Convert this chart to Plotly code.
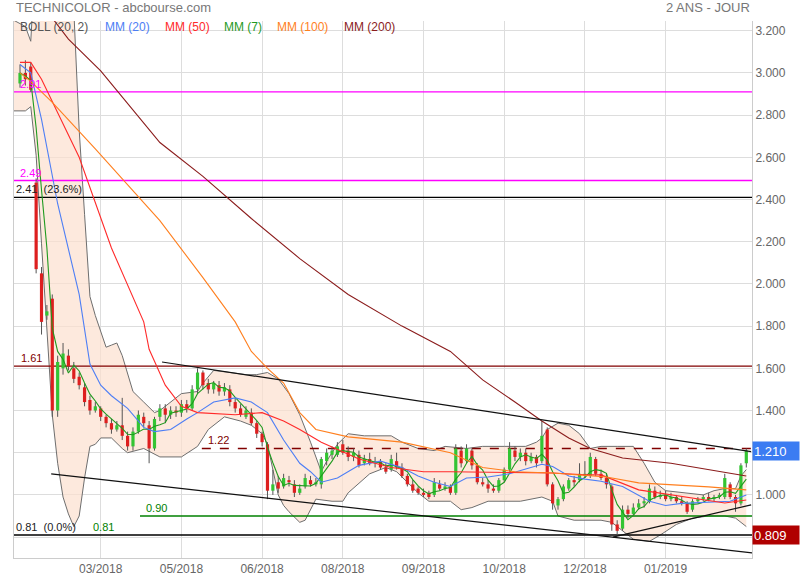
import plotly.graph_objects as go
import pandas as pd

# ---------------- data (candle index = 2 trading days) ----------------
opens = [2.95, 3.00, 3.03, 2.48, 2.05, 1.85, 1.93, 1.40, 1.60, 1.66,
         1.60, 1.56, 1.51, 1.45, 1.40, 1.41, 1.37, 1.34, 1.31, 1.33,
         1.28, 1.23, 1.30, 1.37, 1.33, 1.22, 1.37, 1.41, 1.38, 1.40,
         1.39, 1.43, 1.41, 1.50, 1.58, 1.53, 1.50, 1.52, 1.49, 1.50,
         1.44, 1.41, 1.37, 1.39, 1.34, 1.29, 1.24, 1.02, 1.06, 1.04,
         1.07, 1.05, 1.01, 1.04, 1.07, 1.05, 1.05, 1.16, 1.19, 1.19,
         1.24, 1.21, 1.18, 1.19, 1.15, 1.17, 1.15, 1.16, 1.13, 1.12,
         1.16, 1.13, 1.09, 1.05, 1.03, 1.01, 1.01, 1.00, 1.05, 1.03,
         1.04, 1.01, 1.21, 1.16, 1.21, 1.14, 1.06, 1.05, 1.03, 1.02,
         1.07, 1.12, 1.21, 1.18, 1.20, 1.16, 1.18, 1.16, 1.31, 1.05,
         0.95, 0.98, 1.03, 1.07, 1.07, 1.09, 1.09, 1.17, 1.10, 1.08,
         1.04, 0.86, 0.84, 0.93, 0.91, 0.94, 0.96, 0.97, 1.02, 0.99,
         1.00, 0.98, 0.99, 0.97, 0.96, 0.93, 0.97, 0.98, 0.99, 0.98,
         0.99, 0.99, 1.05, 0.99, 0.96, 1.15]
highs = [3.04, 3.06, 3.05, 2.50, 2.08, 1.90, 1.95, 1.66, 1.72, 1.69,
         1.63, 1.58, 1.53, 1.47, 1.44, 1.42, 1.38, 1.36, 1.35, 1.46,
         1.30, 1.32, 1.40, 1.39, 1.35, 1.37, 1.43, 1.43, 1.42, 1.42,
         1.45, 1.45, 1.52, 1.60, 1.59, 1.55, 1.54, 1.54, 1.53, 1.52,
         1.46, 1.43, 1.42, 1.41, 1.35, 1.30, 1.25, 1.12, 1.09, 1.10,
         1.09, 1.07, 1.05, 1.10, 1.09, 1.08, 1.18, 1.22, 1.23, 1.25,
         1.26, 1.23, 1.22, 1.21, 1.19, 1.20, 1.18, 1.17, 1.15, 1.19,
         1.20, 1.15, 1.10, 1.07, 1.04, 1.03, 1.02, 1.08, 1.07, 1.06,
         1.05, 1.24, 1.23, 1.24, 1.22, 1.15, 1.08, 1.07, 1.05, 1.08,
         1.13, 1.25, 1.23, 1.22, 1.22, 1.20, 1.19, 1.35, 1.32, 1.06,
         0.99, 1.05, 1.08, 1.09, 1.15, 1.16, 1.20, 1.18, 1.12, 1.10,
         1.05, 0.88, 0.95, 0.95, 0.96, 0.98, 0.99, 1.05, 1.04, 1.02,
         1.02, 1.01, 1.00, 0.99, 0.97, 0.98, 0.99, 1.00, 1.01, 1.00,
         1.01, 1.10, 1.06, 1.00, 1.15, 1.22]
lows = [2.93, 2.94, 2.91, 2.05, 1.76, 1.83, 1.37, 1.37, 1.57, 1.59,
        1.53, 1.50, 1.42, 1.38, 1.39, 1.35, 1.32, 1.29, 1.30, 1.26,
        1.21, 1.21, 1.29, 1.32, 1.15, 1.21, 1.35, 1.34, 1.36, 1.37,
        1.37, 1.39, 1.40, 1.48, 1.50, 1.48, 1.48, 1.47, 1.47, 1.42,
        1.39, 1.37, 1.36, 1.33, 1.27, 1.23, 0.98, 1.00, 1.01, 1.03,
        1.04, 0.99, 1.00, 1.03, 1.04, 1.04, 1.03, 1.14, 1.17, 1.18,
        1.19, 1.16, 1.16, 1.13, 1.14, 1.14, 1.13, 1.12, 1.10, 1.11,
        1.12, 1.08, 1.04, 1.01, 1.00, 0.99, 0.98, 0.99, 1.02, 1.02,
        1.00, 1.00, 1.13, 1.15, 1.12, 1.05, 1.04, 1.01, 1.01, 1.01,
        1.06, 1.11, 1.16, 1.16, 1.14, 1.15, 1.13, 1.15, 1.04, 0.93,
        0.93, 0.97, 1.02, 1.04, 1.06, 1.08, 1.08, 1.09, 1.07, 1.03,
        0.83, 0.809, 0.83, 0.89, 0.90, 0.93, 0.94, 0.96, 0.98, 0.98,
        0.97, 0.97, 0.96, 0.95, 0.91, 0.92, 0.96, 0.97, 0.97, 0.97,
        0.98, 0.98, 0.98, 0.92, 0.95, 1.13]
closes = [3.00, 2.97, 2.92, 2.07, 1.82, 1.87, 1.40, 1.63, 1.67, 1.61,
          1.55, 1.52, 1.44, 1.40, 1.42, 1.37, 1.34, 1.31, 1.33, 1.28,
          1.23, 1.30, 1.38, 1.34, 1.22, 1.36, 1.41, 1.38, 1.40, 1.39,
          1.43, 1.41, 1.50, 1.58, 1.52, 1.50, 1.53, 1.49, 1.51, 1.44,
          1.41, 1.38, 1.40, 1.34, 1.29, 1.25, 1.02, 1.05, 1.03, 1.08,
          1.06, 1.01, 1.03, 1.08, 1.05, 1.06, 1.17, 1.20, 1.21, 1.23,
          1.20, 1.18, 1.20, 1.14, 1.17, 1.15, 1.16, 1.13, 1.11, 1.17,
          1.13, 1.09, 1.05, 1.02, 1.01, 1.00, 0.99, 1.06, 1.03, 1.04,
          1.01, 1.22, 1.15, 1.22, 1.14, 1.06, 1.05, 1.03, 1.02, 1.07,
          1.12, 1.22, 1.18, 1.20, 1.16, 1.18, 1.15, 1.28, 1.05, 0.96,
          0.98, 1.04, 1.07, 1.06, 1.10, 1.10, 1.18, 1.10, 1.08, 1.05,
          0.86, 0.83, 0.93, 0.91, 0.94, 0.96, 0.97, 1.03, 0.99, 1.00,
          0.98, 0.99, 0.97, 0.96, 0.92, 0.97, 0.98, 0.99, 0.98, 0.99,
          1.00, 1.08, 0.99, 0.96, 1.14, 1.21]
idx = list(range(len(closes)))

tick_idx = [15, 30, 45, 60, 75, 90, 105, 120]
tick_text = ["03/2018", "05/2018", "06/2018", "08/2018", "09/2018",
             "10/2018", "12/2018", "01/2019"]

# moving averages (index, value)
ma200_x = [-1.2, 6, 9, 15, 26, 34, 43, 52, 61, 71, 80, 86, 92, 97, 102, 106, 112, 121, 135]
ma200_v = [3.42, 3.26, 3.16, 3.01, 2.67, 2.51, 2.31, 2.12, 1.95, 1.80, 1.68, 1.545, 1.44,
           1.35, 1.27, 1.22, 1.175, 1.15, 1.09]
ma100_x = [0, 2, 6, 14, 26, 34, 40, 43, 46, 49, 52, 55, 61, 71, 80, 86, 92, 99, 109, 115, 128, 135]
ma100_v = [3.00, 2.96, 2.86, 2.64, 2.30, 2.03, 1.82, 1.68, 1.60, 1.53, 1.39, 1.31, 1.275,
           1.25, 1.20, 1.13, 1.11, 1.104, 1.085, 1.057, 1.038, 1.024]
ma50_x = [0, 2, 4, 7, 11, 17, 23, 24, 27, 30, 33, 40, 45, 49, 52, 56, 63, 69, 75, 80,
          99, 105, 108, 115, 125, 131, 135]
ma50_v = [3.05, 3.05, 2.97, 2.81, 2.60, 2.17, 1.82, 1.69, 1.52, 1.42, 1.39, 1.38, 1.39,
          1.35, 1.31, 1.25, 1.17, 1.13, 1.11, 1.11, 1.104, 1.095, 1.095, 1.024, 0.986,
          0.962, 0.976]
ma20_x = [0, 2, 4, 7, 11, 13, 15, 17, 20, 23, 25, 28, 31, 33, 36, 40, 43, 46, 49, 52,
          54, 56, 59, 63, 67, 71, 74, 77, 80, 83, 87, 91, 97, 99, 102, 105, 108, 112,
          117, 120, 123, 128, 132, 135]
ma20_v = [3.04, 3.00, 2.78, 2.38, 1.95, 1.62, 1.52, 1.47, 1.41, 1.32, 1.30, 1.31, 1.36,
          1.39, 1.44, 1.46, 1.44, 1.39, 1.26, 1.15, 1.11, 1.06, 1.08, 1.14, 1.16, 1.13,
          1.09, 1.06, 1.04, 1.08, 1.085, 1.10, 1.145, 1.135, 1.09, 1.075, 1.065, 1.04,
          0.97, 0.95, 0.96, 0.965, 0.97, 1.00]

# Bollinger (20, 2)
boll_up_x = [-1.2, 1, 2, 3, 6, 9, 10, 11, 12, 13, 14, 15, 16, 17, 18, 19, 21, 23, 25,
             26, 28, 30, 33, 34, 36, 39, 42, 44, 46, 48, 50, 52, 54, 56, 57, 59, 61,
             64, 69, 71, 74, 77, 79, 83, 86, 90, 94, 96, 97, 98, 100, 102, 104, 106,
             108, 111, 114, 116, 118, 120, 123, 127, 129, 131, 133, 134, 135]
boll_up_v = [3.25, 3.22, 3.15, 3.60, 3.90, 3.70, 3.30, 2.73, 2.33, 1.94, 1.85, 1.77,
             1.70, 1.71, 1.72, 1.66, 1.49, 1.44, 1.39, 1.40, 1.44, 1.48, 1.49, 1.53,
             1.59, 1.58, 1.57, 1.57, 1.58, 1.55, 1.48, 1.38, 1.25, 1.11, 1.16, 1.24,
             1.29, 1.28, 1.28, 1.25, 1.22, 1.21, 1.23, 1.22, 1.23, 1.23, 1.23, 1.25,
             1.27, 1.31, 1.34, 1.33, 1.29, 1.22, 1.23, 1.23, 1.23, 1.15, 1.06, 1.02,
             1.01, 1.00, 1.02, 1.03, 1.03, 1.09, 1.12]
boll_lo_x = [-1.2, 1, 2, 3, 4, 5, 6, 7, 8, 9, 10, 11, 12, 13, 14, 15, 17, 19, 20, 23,
             26, 30, 33, 35, 38, 41, 43, 45, 46, 47, 48, 49, 50, 52, 53, 55, 58, 60,
             61, 65, 68, 70, 72, 74, 76, 80, 82, 84, 87, 93, 97, 99, 100, 103, 108,
             110, 112, 114, 117, 119, 122, 125, 128, 131, 133, 135]
boll_lo_v = [2.82, 2.82, 2.84, 2.61, 2.19, 1.78, 1.38, 1.15, 0.99, 0.91, 0.85, 0.90,
             1.08, 1.23, 1.24, 1.27, 1.27, 1.22, 1.20, 1.22, 1.18, 1.18, 1.23, 1.31,
             1.37, 1.35, 1.33, 1.29, 1.24, 1.12, 1.00, 0.95, 0.92, 0.87, 0.88, 0.98,
             0.97, 0.97, 1.01, 1.10, 1.13, 1.11, 1.06, 1.01, 0.97, 0.97, 0.93, 0.94,
             0.97, 0.97, 0.99, 0.97, 0.90, 0.88, 0.88, 0.87, 0.83, 0.79, 0.78, 0.81,
             0.86, 0.89, 0.90, 0.90, 0.89, 0.85]

# horizontal levels
level_v = [2.91, 2.49, 2.41, 1.61, 1.22, 0.90, 0.81]
level_start = [-1.2, -1.2, -1.2, -1.2, 33.8, 22.3, -1.2]
level_color = ["#ff00ff", "#ff00ff", "#000000", "#800000", "#800000", "#008000", "#000000"]
level_dash = ["solid", "solid", "solid", "solid", "dash", "solid", "solid"]

# trend channel lines (index, value)
chan_up_x, chan_up_v = [26.4, 135.9], [1.63, 1.205]
chan_lo_x, chan_lo_v = [5.8, 136.1], [1.10, 0.725]
supp_x, supp_v = [110.2, 135.9], [0.80, 0.953]

last_price = 1.210
min_price = 0.809

# ---------------- figure ----------------
fig = go.Figure()

# Bollinger shaded band
fig.add_trace(go.Scatter(x=boll_up_x + boll_lo_x[::-1], y=boll_up_v + boll_lo_v[::-1],
                         fill="toself", fillcolor="rgba(252,224,206,0.7)",
                         line=dict(width=0), hoverinfo="skip", showlegend=False))
for bx, bv in ((boll_up_x, boll_up_v), (boll_lo_x, boll_lo_v)):
    fig.add_trace(go.Scatter(x=bx, y=bv, mode="lines",
                             line=dict(color="#6e6e6e", width=1), hoverinfo="skip",
                             showlegend=False))

# horizontal levels
for v, s, c, d in zip(level_v, level_start, level_color, level_dash):
    fig.add_trace(go.Scatter(x=[s, 137], y=[v, v], mode="lines",
                             line=dict(color=c, width=1.3, dash=d),
                             hoverinfo="skip", showlegend=False))

# candles drawn as scatter segments (so they sit above the band fill)
wx, wy = [], []
ux, uy, dx, dy = [], [], [], []
for k, o, h, l, c in zip(idx, opens, highs, lows, closes):
    wx += [k, k, None]
    wy += [l, h, None]
    if c >= o:
        ux += [k, k, None]
        uy += [o, c, None]
    else:
        dx += [k, k, None]
        dy += [o, c, None]
fig.add_trace(go.Scatter(x=wx, y=wy, mode="lines", line=dict(color="#555555", width=1),
                         hoverinfo="skip", showlegend=False))
fig.add_trace(go.Scatter(x=ux, y=uy, mode="lines", line=dict(color="#33c433", width=3.2),
                         hoverinfo="skip", showlegend=False))
fig.add_trace(go.Scatter(x=dx, y=dy, mode="lines", line=dict(color="#dd1f1f", width=3.2),
                         hoverinfo="skip", showlegend=False))

# moving averages
ma7 = pd.Series(closes).rolling(4, min_periods=1).mean()
fig.add_trace(go.Scatter(x=idx, y=ma7, mode="lines", line=dict(color="#1f9a1f", width=1.1),
                         hoverinfo="skip", showlegend=False))
for mx, mv, col in ((ma20_x, ma20_v, "#4d7ef5"), (ma50_x, ma50_v, "#ff2a2a"),
                    (ma100_x, ma100_v, "#ff7f1e"), (ma200_x, ma200_v, "#8b1c1c")):
    fig.add_trace(go.Scatter(x=mx, y=mv, mode="lines", line=dict(color=col, width=1.1),
                             hoverinfo="skip", showlegend=False))

# channel lines
for cx, cv in ((chan_up_x, chan_up_v), (chan_lo_x, chan_lo_v), (supp_x, supp_v)):
    fig.add_trace(go.Scatter(x=cx, y=cv, mode="lines", line=dict(color="#111111", width=1.2),
                             hoverinfo="skip", showlegend=False))

font = "Liberation Sans, Arial, sans-serif"
ann = []
# level labels
lab = [("2.91", 2.91, 0.005, "#ff00ff"), ("2.49", 2.49, 0.005, "#ff00ff"),
       ("2.41  (23.6%)", 2.41, 0.0, "#222222"), ("1.61", 1.61, 0.007, "#800000"),
       ("0.81  (0.0%)", 0.81, 0.0, "#222222")]
for t, v, px, c in lab:
    ann.append(dict(text=t, x=px, xref="paper", y=v, yref="y", xanchor="left",
                    yanchor="bottom", showarrow=False, font=dict(size=11, color=c, family=font)))
ann.append(dict(text="1.22", x=34.5, xref="x", y=1.22, yref="y", xanchor="left",
                yanchor="bottom", showarrow=False, font=dict(size=11, color="#800000", family=font)))
ann.append(dict(text="0.90", x=23.0, xref="x", y=0.90, yref="y", xanchor="left",
                yanchor="bottom", showarrow=False, font=dict(size=11, color="#008000", family=font)))
ann.append(dict(text="0.81", x=13.2, xref="x", y=0.81, yref="y", xanchor="left",
                yanchor="bottom", showarrow=False, font=dict(size=11, color="#008000", family=font)))

# legend-like labels
leg = [("BOLL (20, 2)", 18, "#555555"), ("MM (20)", 103, "#4d7ef5"), ("MM (50)", 163, "#ff2a2a"),
       ("MM (7)", 222, "#1f9a1f"), ("MM (100)", 275, "#ff7f1e"), ("MM (200)", 342, "#8b1c1c")]
for t, px, c in leg:
    ann.append(dict(text=t, x=(px - 14) / 737, xref="paper", y=0.989, yref="paper",
                    xanchor="left", yanchor="middle", showarrow=False,
                    font=dict(size=12, color=c, family=font)))

ann.append(dict(text="TECHNICOLOR - abcbourse.com", x=0, xref="paper", y=1.026, yref="paper",
                xanchor="left", yanchor="middle", showarrow=False,
                font=dict(size=13, color="#777777", family=font)))
ann.append(dict(text="2 ANS - JOUR", x=1.0, xref="paper", y=1.026, yref="paper",
                xanchor="right", yanchor="middle", showarrow=False,
                font=dict(size=13, color="#777777", family=font)))

# price boxes on right axis
for v, bg in ((last_price, "#3b7cf2"), (min_price, "#b00000")):
    ann.append(dict(text="%.3f" % v, x=1.0, xref="paper", y=v, yref="y", xanchor="left",
                    yanchor="middle", showarrow=False, bgcolor=bg, width=44, height=16,
                    align="left", borderpad=1,
                    font=dict(size=13, color="#ffffff", family=font)))

ytick_v = [0.8 + 0.2 * i for i in range(13)]
ytick_t = ["" if abs(v - 0.8) < 1e-6 or abs(v - 1.2) < 1e-6 else "%.3f" % v for v in ytick_v]

fig.update_layout(
    width=800, height=580,
    margin=dict(l=14, r=48, t=21, b=22, autoexpand=False),
    paper_bgcolor="white", plot_bgcolor="white",
    font=dict(family=font, size=12, color="#666666"),
    showlegend=False,
    annotations=ann,
    xaxis=dict(range=[-1.115, 136.06], tickvals=tick_idx, ticktext=tick_text,
               showgrid=True, gridcolor="#dddddd", gridwidth=1, zeroline=False,
               showline=True, linecolor="#cccccc", ticks="", automargin=False,
               tickfont=dict(size=12, color="#666666")),
    yaxis=dict(range=[0.701, 3.246], side="right", tickvals=ytick_v, ticktext=ytick_t,
               showgrid=True, gridcolor="#dddddd", gridwidth=1, zeroline=False,
               showline=True, mirror=True, linecolor="#cccccc", ticks="", automargin=False,
               tickfont=dict(size=12, color="#666666")),
)

fig.write_html("out.html", config={"displayModeBar": False},
               post_script="document.body.style.margin='0px';")
